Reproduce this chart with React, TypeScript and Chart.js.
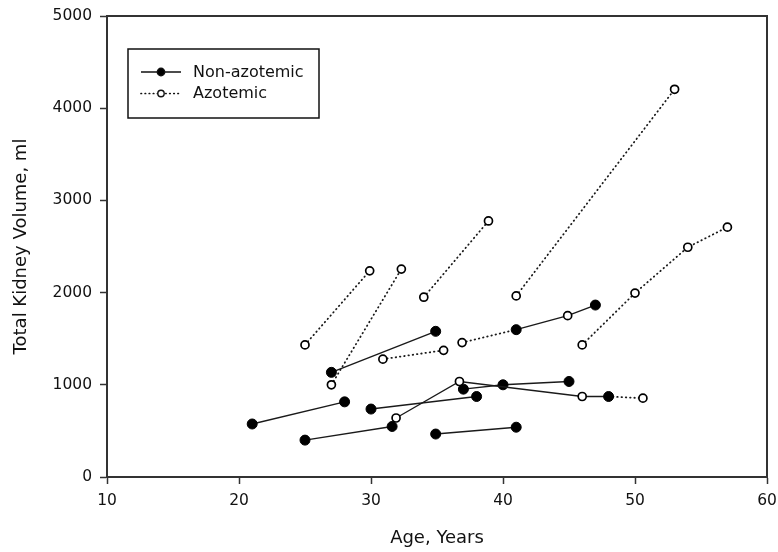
import { useEffect, useRef } from 'react';
import { Chart, registerables } from 'chart.js';

Chart.register(...registerables);

// Each track = one patient's repeated measurements (age in years, total kidney volume in ml)
const trackAges: number[][] = [
  [21, 28],
  [25, 31.6],
  [27, 34.9],
  [30, 38],
  [31.9, 36.7, 46, 48, 50.6],
  [37, 40, 45],
  [34.9, 41],
  [36.9, 41, 44.9, 47],
  [25, 29.9],
  [27, 32.3],
  [30.9, 35.5],
  [34, 38.9],
  [41, 53],
  [46, 50, 54, 57],
];

const trackVolumes: number[][] = [
  [575, 815],
  [400, 548],
  [1135, 1580],
  [737, 873],
  [640, 1036, 873, 873, 855],
  [953, 1000, 1036],
  [466, 540],
  [1458, 1598, 1750, 1865],
  [1433, 2236],
  [1000, 2255],
  [1278, 1374],
  [1950, 2777],
  [1964, 4205],
  [1433, 1995, 2492, 2710],
];

// N = non-azotemic (filled), A = azotemic (open)
const trackStatus: string[][] = [
  ['N', 'N'],
  ['N', 'N'],
  ['N', 'N'],
  ['N', 'N'],
  ['A', 'A', 'A', 'N', 'A'],
  ['N', 'N', 'N'],
  ['N', 'N'],
  ['A', 'N', 'A', 'N'],
  ['A', 'A'],
  ['A', 'A'],
  ['A', 'A'],
  ['A', 'A'],
  ['A', 'A'],
  ['A', 'A', 'A', 'A'],
];

// line style of each segment between consecutive measurements
const trackSegments: string[][] = [
  ['solid'],
  ['solid'],
  ['solid'],
  ['solid'],
  ['solid', 'solid', 'solid', 'dotted'],
  ['solid', 'solid'],
  ['solid'],
  ['dotted', 'solid', 'solid'],
  ['dotted'],
  ['dotted'],
  ['dotted'],
  ['dotted'],
  ['dotted'],
  ['dotted', 'dotted', 'dotted'],
];

const xTicks = [10, 20, 30, 40, 50, 60];
const yTicks = [0, 1000, 2000, 3000, 4000, 5000];
const legendLabels = ['Non-azotemic', 'Azotemic'];
const xTitle = 'Age, Years';
const yTitle = 'Total Kidney Volume, ml';

const FONT = '"DejaVu Sans", "Liberation Sans", sans-serif';
const INK = '#111';
const AXIS = '#333';

const frameAndLegend = {
  id: 'frameAndLegend',
  afterDraw(chart: any) {
    const { ctx, chartArea } = chart;
    ctx.save();
    // frame
    ctx.strokeStyle = AXIS;
    ctx.lineWidth = 2;
    ctx.strokeRect(chartArea.left, chartArea.top, chartArea.right - chartArea.left, chartArea.bottom - chartArea.top);

    // inset legend
    const x0 = chartArea.left + 21;
    const y0 = chartArea.top + 33;
    ctx.lineWidth = 1.5;
    ctx.strokeStyle = INK;
    ctx.strokeRect(x0, y0, 191, 69);
    legendLabels.forEach((label, i) => {
      const cy = y0 + 23 + i * 21.5;
      const dotted = i === 1;
      ctx.beginPath();
      ctx.setLineDash(dotted ? [0.5, 3.6] : []);
      ctx.lineCap = dotted ? 'round' : 'butt';
      ctx.lineWidth = dotted ? 1.7 : 1.5;
      ctx.strokeStyle = INK;
      ctx.moveTo(x0 + 13, cy);
      ctx.lineTo(x0 + 53, cy);
      ctx.stroke();
      ctx.setLineDash([]);
      ctx.beginPath();
      ctx.arc(x0 + 33, cy, dotted ? 3.2 : 3.7, 0, Math.PI * 2);
      ctx.fillStyle = dotted ? '#fff' : '#000';
      ctx.fill();
      ctx.lineWidth = 1.4;
      ctx.stroke();
      ctx.fillStyle = INK;
      ctx.font = `16px ${FONT}`;
      ctx.textBaseline = 'middle';
      ctx.textAlign = 'left';
      ctx.fillText(label, x0 + 65, cy + 0.5);
    });
    ctx.restore();
  },
};

export default function App() {
  const canvasRef = useRef<HTMLCanvasElement | null>(null);

  useEffect(() => {
    if (!canvasRef.current) return;
    const datasets = trackAges.map((ages, t) => {
      const status = trackStatus[t];
      const segs = trackSegments[t];
      return {
        label: `track${t}`,
        data: ages.map((a, i) => ({ x: a, y: trackVolumes[t][i] })),
        showLine: true,
        borderColor: '#1a1a1a',
        borderWidth: 1.4,
        pointStyle: 'circle',
        pointRadius: status.map((s) => (s === 'N' ? 5 : 4)),
        pointHoverRadius: status.map((s) => (s === 'N' ? 5 : 4)),
        pointBackgroundColor: status.map((s) => (s === 'N' ? '#000' : '#fff')),
        pointBorderColor: '#000',
        pointBorderWidth: status.map((s) => (s === 'N' ? 1 : 1.7)),
        segment: {
          borderDash: (ctx: any) => (segs[ctx.p0DataIndex] === 'dotted' ? [0.5, 3.8] : []),
          borderWidth: (ctx: any) => (segs[ctx.p0DataIndex] === 'dotted' ? 1.8 : 1.4),
          borderCapStyle: (ctx: any) => (segs[ctx.p0DataIndex] === 'dotted' ? 'round' : 'butt'),
        },
      };
    });

    const chart = new Chart(canvasRef.current, {
      type: 'scatter',
      data: { datasets: datasets as any },
      options: {
        responsive: false,
        animation: false,
        devicePixelRatio: 1,
        events: [],
        layout: { padding: { left: 0, top: 16, right: 11, bottom: 0 } },
        plugins: {
          legend: { display: false },
          tooltip: { enabled: false },
          title: { display: false },
        },
        scales: {
          x: {
            type: 'linear',
            min: 10,
            max: 60,
            afterBuildTicks: (scale: any) => {
              scale.ticks = xTicks.map((v) => ({ value: v }));
            },
            afterFit: (scale: any) => {
              scale.height = 75;
              scale.paddingLeft = 0;
              scale.paddingRight = 0;
            },
            ticks: {
              color: INK,
              font: { family: FONT, size: 15.5 },
              padding: 8,
              maxRotation: 0,
              callback: (v: any) => String(v),
            },
            grid: {
              display: true,
              drawOnChartArea: false,
              drawTicks: true,
              tickLength: 7,
              tickWidth: 1.5,
              tickColor: AXIS,
            },
            border: { display: true, color: AXIS, width: 2 },
            title: {
              display: true,
              text: xTitle,
              color: INK,
              font: { family: FONT, size: 18 },
              padding: { top: 4, bottom: 3 },
            },
          },
          y: {
            type: 'linear',
            min: 0,
            max: 5000,
            afterBuildTicks: (scale: any) => {
              scale.ticks = yTicks.map((v) => ({ value: v }));
            },
            afterFit: (scale: any) => {
              scale.width = 107;
              scale.paddingTop = 0;
              scale.paddingBottom = 0;
            },
            ticks: {
              color: INK,
              font: { family: FONT, size: 15.5 },
              padding: 8,
              callback: (v: any) => String(v),
            },
            grid: {
              display: true,
              drawOnChartArea: false,
              drawTicks: true,
              tickLength: 7,
              tickWidth: 1.5,
              tickColor: AXIS,
            },
            border: { display: true, color: AXIS, width: 2 },
            title: {
              display: true,
              text: yTitle,
              color: INK,
              font: { family: FONT, size: 18 },
              padding: { top: 11, bottom: 4 },
            },
          },
        },
      },
      plugins: [frameAndLegend],
    });
    return () => chart.destroy();
  }, []);

  return (
    <div style={{ position: 'fixed', left: 0, top: 0, width: 778, height: 552, background: '#fff' }}>
      <canvas ref={canvasRef} width={778} height={552} style={{ width: 778, height: 552, display: 'block' }} />
    </div>
  );
}
